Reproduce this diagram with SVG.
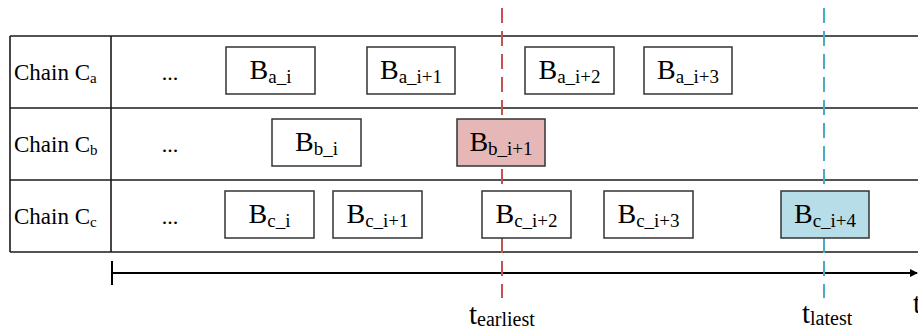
<svg xmlns="http://www.w3.org/2000/svg" width="918" height="331" viewBox="0 0 918 331">
<style>
text{font-family:"Liberation Serif","Times New Roman",serif;fill:#000}
.grid{stroke:#1a1a1a;stroke-width:1.6;fill:none}
.blk{fill:#fff;stroke:#333;stroke-width:1.5}
.lbl{font-size:23px}
.bt{font-size:28px;text-anchor:middle}
.sub{font-size:19px}
.lsub{font-size:15px}
.dots{font-size:22px;text-anchor:middle}
.red{stroke:#c4524e;stroke-width:2;stroke-dasharray:15 8;fill:none}
.blue{stroke:#4bacc6;stroke-width:2;stroke-dasharray:15 8;fill:none}
.tl{font-size:29px}
.tsub{font-size:20px}
</style>
<defs>
<marker id="arr" markerWidth="8" markerHeight="8" refX="7" refY="4" orient="auto" markerUnits="userSpaceOnUse">
<path d="M0,0 L8,4 L0,8 Z" fill="#000"/>
</marker>
</defs>
<g id="table">
<line class="grid" x1="10" y1="36" x2="918" y2="36"/>
<line class="grid" x1="10" y1="108" x2="918" y2="108"/>
<line class="grid" x1="10" y1="180" x2="918" y2="180"/>
<line class="grid" x1="10" y1="252" x2="918" y2="252"/>
<line class="grid" x1="10" y1="36" x2="10" y2="252"/>
<line class="grid" x1="111" y1="36" x2="111" y2="252"/>
</g>
<g id="connectors">
<line x1="112" y1="261" x2="112" y2="285" stroke="#000" stroke-width="2"/>
<line x1="112" y1="273" x2="917" y2="273" stroke="#000" stroke-width="2" marker-end="url(#arr)"/>
<line class="red" x1="502" y1="8" x2="502" y2="298"/>
<line class="blue" x1="824" y1="8" x2="824" y2="298"/>
</g>
<g id="labels">
<text class="lbl" x="14" y="80">Chain C<tspan class="lsub" dy="3">a</tspan></text>
<text class="lbl" x="14" y="152">Chain C<tspan class="lsub" dy="3">b</tspan></text>
<text class="lbl" x="14" y="224">Chain C<tspan class="lsub" dy="3">c</tspan></text>
<text class="dots" x="170" y="80">...</text>
<text class="dots" x="170" y="152">...</text>
<text class="dots" x="170" y="224">...</text>
</g>
<g id="Ba_i"><rect class="blk" x="226" y="47" width="89" height="47"/><text class="bt" x="270.5" y="79">B<tspan class="sub" dy="4">a_i</tspan></text></g>
<g id="Ba_i1"><rect class="blk" x="367" y="47" width="88" height="47"/><text class="bt" x="411" y="79">B<tspan class="sub" dy="4">a_i+1</tspan></text></g>
<g id="Ba_i2"><rect class="blk" x="525" y="47" width="89" height="47"/><text class="bt" x="569.5" y="79">B<tspan class="sub" dy="4">a_i+2</tspan></text></g>
<g id="Ba_i3"><rect class="blk" x="644" y="47" width="88" height="47"/><text class="bt" x="688" y="79">B<tspan class="sub" dy="4">a_i+3</tspan></text></g>
<g id="Bb_i"><rect class="blk" x="272" y="119" width="89" height="47"/><text class="bt" x="316.5" y="151">B<tspan class="sub" dy="4">b_i</tspan></text></g>
<g id="Bb_i1"><rect class="blk" x="457" y="119" width="88" height="47" style="fill:#e5b8b7"/><text class="bt" x="501" y="151">B<tspan class="sub" dy="4">b_i+1</tspan></text></g>
<g id="Bc_i"><rect class="blk" x="225" y="191" width="89" height="47"/><text class="bt" x="269.5" y="223">B<tspan class="sub" dy="4">c_i</tspan></text></g>
<g id="Bc_i1"><rect class="blk" x="333" y="191" width="89" height="47"/><text class="bt" x="377.5" y="223">B<tspan class="sub" dy="4">c_i+1</tspan></text></g>
<g id="Bc_i2"><rect class="blk" x="482" y="191" width="89" height="47"/><text class="bt" x="526.5" y="223">B<tspan class="sub" dy="4">c_i+2</tspan></text></g>
<g id="Bc_i3"><rect class="blk" x="604" y="191" width="89" height="47"/><text class="bt" x="648.5" y="223">B<tspan class="sub" dy="4">c_i+3</tspan></text></g>
<g id="Bc_i4"><rect class="blk" x="781" y="191" width="88" height="47" style="fill:#b7dde8"/><text class="bt" x="825" y="223">B<tspan class="sub" dy="4">c_i+4</tspan></text></g>
<g id="timelabels">
<text class="tl" x="469" y="324">t<tspan class="tsub" dy="2">earliest</tspan></text>
<text class="tl" x="802" y="323">t<tspan class="tsub" dy="2">latest</tspan></text>
<text class="tl" x="913" y="313">t</text>
</g>
</svg>
